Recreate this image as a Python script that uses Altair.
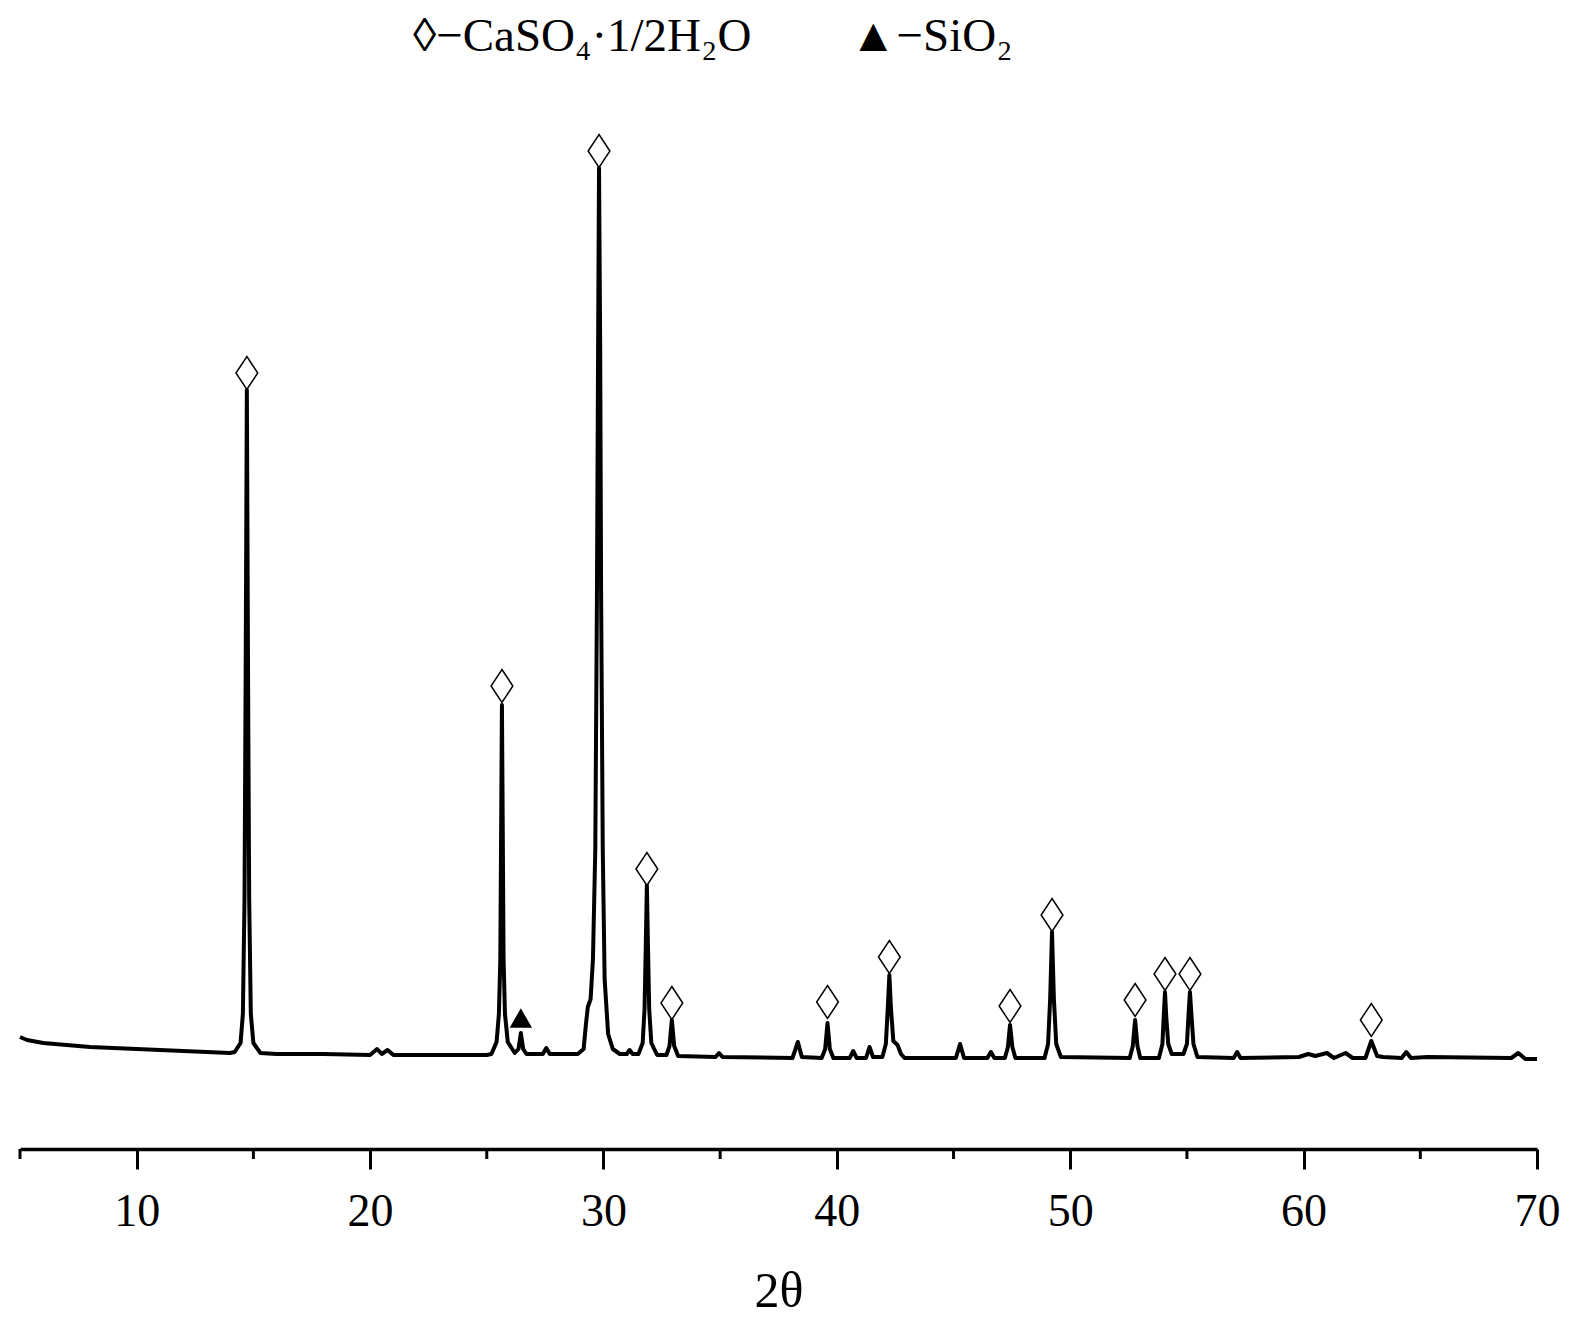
import altair as alt
import pandas as pd

# 2θ (degrees) and intensity (arbitrary units)
two_theta = [
    5.0, 5.3, 6.0, 7.0, 8.0, 9.0, 10.0, 11.0, 12.0, 13.0, 14.0,
    14.2, 14.45, 14.55, 14.62, 14.67, 14.72, 14.77, 14.82, 14.89, 15.0, 15.3,
    16.0, 18.0, 20.0, 20.3, 20.5, 20.75, 21.0, 23.0, 25.0,
    25.2, 25.42, 25.52, 25.58, 25.61, 25.65, 25.69, 25.72, 25.78, 25.9,
    26.2, 26.36, 26.46, 26.56, 26.7,
    27.4, 27.55, 27.7,
    28.9, 29.15, 29.25, 29.33, 29.45, 29.55, 29.65, 29.72, 29.77, 29.81, 29.86, 29.9, 29.97, 30.05, 30.2, 30.4, 30.7,
    31.0, 31.12, 31.25,
    31.5, 31.68, 31.76, 31.81, 31.86, 31.91, 31.96, 32.05, 32.3,
    32.7, 32.83, 32.93, 33.03, 33.2,
    34.8, 34.95, 35.1,
    38.1, 38.33, 38.5,
    39.35, 39.5, 39.6, 39.7, 39.85,
    40.55, 40.7, 40.85,
    41.25, 41.4, 41.55,
    41.95, 42.1, 42.18, 42.25, 42.32, 42.42, 42.6, 42.75, 42.9,
    45.1, 45.28, 45.45,
    46.45, 46.6, 46.75,
    47.2, 47.33, 47.42, 47.52, 47.65,
    48.9, 49.05, 49.14, 49.22, 49.3, 49.4, 49.6,
    52.55, 52.68, 52.78, 52.88, 53.0,
    53.8, 53.95, 54.0, 54.06, 54.12, 54.2, 54.35, 54.5,
    54.85, 55.0, 55.07, 55.13, 55.19, 55.28, 55.45,
    57.0, 57.15, 57.3,
    59.8, 60.2, 60.5, 61.0, 61.3, 61.8, 62.1,
    62.65, 62.9, 63.15, 63.4,
    64.2, 64.4, 64.6, 65.3,
    68.9, 69.2, 69.5, 70.0,
]
intensity = [
    112, 109, 106, 104, 102, 101, 100, 99, 98, 97, 96,
    97, 106, 135, 250, 480, 759, 480, 250, 135, 106, 96,
    95, 95, 94, 100, 95, 99, 94, 94, 94,
    95, 107, 135, 190, 300, 444, 300, 190, 135, 107,
    96, 100, 116, 100, 95,
    95, 101, 95,
    95, 100, 125, 142, 150, 190, 300, 550, 800, 981, 800, 550, 300, 170, 115, 100, 95,
    95, 99, 95,
    95, 106, 140, 200, 264, 200, 140, 106, 94,
    94, 103, 129, 103, 93,
    92, 96, 92,
    91, 107, 92,
    91, 100, 126, 100, 91,
    91, 98, 91,
    91, 102, 92,
    92, 105, 140, 174, 140, 108, 104, 95, 91,
    91, 105, 91,
    91, 97, 91,
    91, 102, 124, 102, 91,
    91, 105, 150, 217, 150, 105, 92,
    91, 103, 129, 103, 91,
    91, 105, 130, 157, 130, 105, 95, 95,
    95, 105, 135, 157, 135, 105, 92,
    91, 97, 91,
    92, 95, 93, 96, 91, 96, 91,
    91, 108, 93, 92,
    91, 97, 91, 92,
    91, 96, 90, 90,
]

# peak markers
caso4_x = [14.72, 25.65, 29.81, 31.86, 32.93, 39.6, 42.25, 47.42, 49.22, 52.78, 54.06, 55.13, 62.9]
caso4_y = [776, 463, 998, 280, 146, 147, 192, 143, 234, 149, 175, 175, 129]
sio2_x = [26.46]
sio2_y = [131]

major_ticks = [10, 20, 30, 40, 50, 60, 70]
minor_ticks = [5, 15, 25, 35, 45, 55, 65]

W, H = 1517, 1049
FONT = "Liberation Serif"

spec = pd.DataFrame({"x": two_theta, "y": intensity})
dia = pd.DataFrame({"x": caso4_x, "y": caso4_y})
tri = pd.DataFrame({"x": sio2_x, "y": sio2_y})
minor = pd.DataFrame({"x": minor_ticks})

xs = alt.Scale(domain=[5, 70], nice=False, zero=False)
ys = alt.Scale(domain=[0, H], nice=False, zero=True)

line = alt.Chart(spec).mark_line(color="black", strokeWidth=4, strokeJoin="round").encode(
    x=alt.X("x:Q", scale=xs, title="2θ",
            axis=alt.Axis(values=major_ticks, grid=False, domainColor="black", domainWidth=3.5,
                          tickColor="black", tickWidth=3, tickSize=20,
                          labelFont=FONT, labelFontSize=46, labelColor="black", labelPadding=20,
                          labelFlush=False,
                          titleFont=FONT, titleFontSize=50, titleFontWeight="normal",
                          titleColor="black", titlePadding=32)),
    y=alt.Y("y:Q", scale=ys, axis=None),
)

minor_rules = alt.Chart(minor).mark_rule(color="black", strokeWidth=3).encode(
    x=alt.X("x:Q", scale=xs),
    y=alt.value(H),
    y2=alt.value(H + 10),
)

diamonds = alt.Chart(dia).mark_point(
    shape="M0,-1L0.66,0L0,1L-0.66,0Z", size=1089, filled=True, fill="white",
    stroke="black", strokeWidth=1.5, opacity=1
).encode(x=alt.X("x:Q", scale=xs), y=alt.Y("y:Q", scale=ys))

triangles = alt.Chart(tri).mark_point(
    shape="triangle-up", size=500, filled=True, color="black", opacity=1
).encode(x=alt.X("x:Q", scale=xs), y=alt.Y("y:Q", scale=ys))

legend1 = alt.Chart(pd.DataFrame({"t": ["◊−CaSO₄·1/2H₂O"]})).mark_text(
    font=FONT, fontSize=47, align="left", baseline="middle", color="black"
).encode(x=alt.value(413 - 20), y=alt.value(37 - 100), text="t:N")

legend2 = alt.Chart(pd.DataFrame({"t": ["▲−SiO₂"]})).mark_text(
    font=FONT, fontSize=47, align="left", baseline="middle", color="black"
).encode(x=alt.value(850 - 20), y=alt.value(37 - 100), text="t:N")

chart = alt.layer(line, minor_rules, diamonds, triangles, legend1, legend2).properties(
    width=W, height=H,
    background="white",
    autosize=alt.AutoSizeParams(type="none"),
    padding={"left": 12, "top": 92, "right": 25, "bottom": 174},
).configure_view(strokeWidth=0, stroke="transparent")

chart.save("out.html", embed_options={"renderer": "svg", "actions": False})
